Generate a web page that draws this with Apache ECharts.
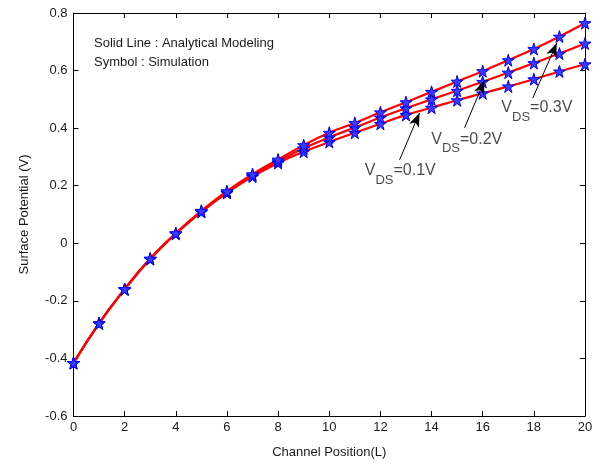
<!DOCTYPE html>
<html>
<head>
<meta charset="utf-8">
<script src="https://cdn.jsdelivr.net/npm/echarts@6/dist/echarts.min.js"></script>
<style>
  html, body { margin: 0; padding: 0; background: #fff; }
  #main { width: 603px; height: 464px; }
</style>
</head>
<body>
<div id="main"></div>
<script>
// channel position (x)
const positions = [0, 1, 2, 3, 4, 5, 6, 7, 8, 9, 10, 11, 12, 13, 14, 15, 16, 17, 18, 19, 20];
// surface potential for each drain bias
const vds01 = [-0.416, -0.278, -0.160, -0.055, 0.033, 0.109, 0.175, 0.232, 0.279, 0.318, 0.352, 0.384, 0.415, 0.446, 0.471, 0.497, 0.521, 0.545, 0.570, 0.597, 0.622];
const vds02 = [-0.416, -0.278, -0.160, -0.054, 0.034, 0.111, 0.178, 0.236, 0.285, 0.330, 0.368, 0.402, 0.437, 0.469, 0.500, 0.530, 0.561, 0.593, 0.626, 0.659, 0.694];
const vds03 = [-0.416, -0.278, -0.159, -0.053, 0.035, 0.113, 0.181, 0.240, 0.291, 0.341, 0.384, 0.418, 0.455, 0.490, 0.526, 0.562, 0.598, 0.636, 0.675, 0.718, 0.765];
// annotation arrows: [from, to] in data coordinates
const arrows = [
  [[12.75, 0.29], [13.53, 0.453]],
  [[15.29, 0.401], [16.07, 0.566]],
  [[17.96, 0.505], [18.90, 0.696]]
];
// annotation labels: anchor and bias text
const labelAnchors = [[11.39, 0.239], [13.99, 0.348], [16.73, 0.457]];
const labelTexts = ['0.1V', '0.2V', '0.3V'];

const font = 'Liberation Sans, Arial, sans-serif';
const starPath = 'path://M50,0 L61,35 L98,35 L68,57 L79,91 L50,70 L21,91 L32,57 L2,35 L39,35 Z';

function pairs(ys) {
  return positions.map((x, i) => [x, ys[i]]);
}

function curve(name, ys) {
  return {
    name: name,
    type: 'line',
    smooth: true,
    data: pairs(ys),
    symbol: starPath,
    symbolSize: 12,
    showAllSymbol: true,
    lineStyle: { color: '#ff0000', width: 2.2 },
    itemStyle: { color: '#3b3bff', borderColor: '#0000ee', borderWidth: 1 },
    z: 3
  };
}

const chart = echarts.init(document.getElementById('main'), null, { renderer: 'canvas' });

const axisText = { color: '#1a1a1a', fontSize: 13, fontFamily: font };
const frameLine = { show: true, onZero: false, lineStyle: { color: '#000', width: 1 } };
const frameTick = { show: true, inside: true, length: 5, lineStyle: { color: '#000' } };

chart.setOption({
  animation: false,
  backgroundColor: '#fff',
  grid: { left: 73.5, right: 18, top: 13, bottom: 47, containLabel: false },
  xAxis: [{
    type: 'value', min: 0, max: 20, interval: 2,
    name: 'Channel Position(L)', nameLocation: 'middle', nameGap: 30,
    nameTextStyle: axisText,
    axisLine: frameLine,
    axisTick: frameTick,
    axisLabel: Object.assign({ margin: 5 }, axisText),
    splitLine: { show: false }
  }, {
    type: 'value', min: 0, max: 20, interval: 2, position: 'top',
    axisLine: frameLine,
    axisTick: frameTick,
    axisLabel: { show: false },
    splitLine: { show: false }
  }],
  yAxis: [{
    type: 'value', min: -0.6, max: 0.8, interval: 0.2,
    name: 'Surface Potential (V)', nameLocation: 'middle', nameGap: 43,
    nameTextStyle: axisText,
    axisLine: frameLine,
    axisTick: frameTick,
    axisLabel: Object.assign({
      margin: 6,
      formatter: v => {
        const r = Math.round(v * 10) / 10;
        return r === 0 ? '0' : String(r);
      }
    }, axisText),
    splitLine: { show: false }
  }, {
    type: 'value', min: -0.6, max: 0.8, interval: 0.2, position: 'right',
    axisLine: frameLine,
    axisTick: frameTick,
    axisLabel: { show: false },
    splitLine: { show: false }
  }],
  graphic: [{
    type: 'text', left: 94, top: 37,
    style: { text: 'Solid Line : Analytical Modeling', fill: '#1a1a1a', font: '13px ' + font }
  }, {
    type: 'text', left: 94, top: 56,
    style: { text: 'Symbol : Simulation', fill: '#1a1a1a', font: '13px ' + font }
  }],
  series: [
    curve('VDS=0.1V', vds01),
    curve('VDS=0.2V', vds02),
    curve('VDS=0.3V', vds03),
    {
      name: 'annotations',
      type: 'scatter',
      symbolSize: 0,
      silent: true,
      data: labelAnchors.map((p, i) => ({ value: p, text: labelTexts[i] })),
      label: {
        show: true,
        position: [0, 0],
        align: 'left',
        verticalAlign: 'middle',
        formatter: p => '{v|V}{s|DS}{v|=' + p.data.text + '}',
        rich: {
          v: { fontSize: 16, color: '#1a1a1a', fontFamily: font, verticalAlign: 'top', lineHeight: 24 },
          s: { fontSize: 13, color: '#1a1a1a', fontFamily: font, verticalAlign: 'bottom', lineHeight: 24, padding: [10, 0, 0, 0] }
        }
      },
      markLine: {
        silent: true,
        symbol: ['none', 'arrow'],
        symbolSize: [8, 14],
        label: { show: false },
        lineStyle: { color: '#000', width: 1, type: 'solid' },
        data: arrows.map(a => [{ coord: a[0] }, { coord: a[1] }])
      },
      z: 5
    }
  ]
});
</script>
</body>
</html>
